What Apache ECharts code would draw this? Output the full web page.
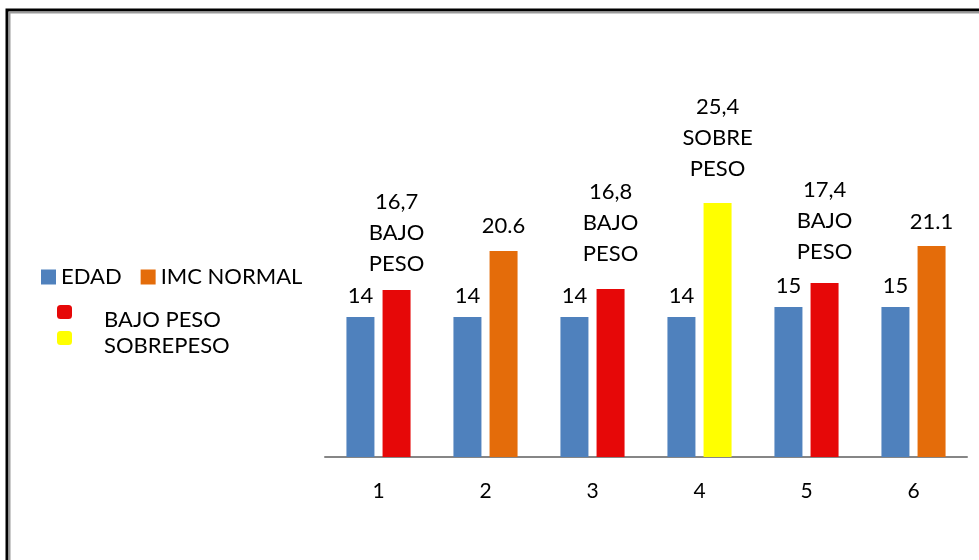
<!DOCTYPE html>
<html>
<head>
<meta charset="utf-8">
<script src="https://cdn.jsdelivr.net/npm/echarts@6/dist/echarts.min.js"></script>
<style>
  html, body { margin: 0; padding: 0; background: #fff; }
  #chart { width: 979px; height: 560px; }
</style>
</head>
<body>
<div id="chart"></div>
<script>
"use strict";

// ── data ──
const categories = ["1", "2", "3", "4", "5", "6"];
const edad       = [14, 14, 14, 14, 15, 15];
const imc        = [16.7, 20.6, 16.8, 25.4, 17.4, 21.1];
const imcClass   = ["BAJO PESO", "NORMAL", "BAJO PESO", "SOBREPESO", "BAJO PESO", "NORMAL"];
const imcLabels  = ["16,7\nBAJO\nPESO", "20.6", "16,8\nBAJO\nPESO", "25,4\nSOBRE\nPESO", "17,4\nBAJO\nPESO", "21.1"];

const COLORS = { EDAD: "#4F81BD", NORMAL: "#E46C0A", "BAJO PESO": "#E60808", SOBREPESO: "#FFFF00" };
const labelGap = [11, 10, 20, 19, 16, 9];   // manual label offsets as in the original
const FONT = "Lato, 'Open Sans', sans-serif";

const chart = echarts.init(document.getElementById("chart"));

chart.setOption({
  backgroundColor: "#fff",
  animation: false,
  textStyle: { fontFamily: FONT },
  graphic: [
    { type: "rect", shape: { x: 7, y: 10, width: 1100, height: 700 }, style: { fill: null, stroke: "#000", lineWidth: 3 }, silent: true },
    { type: "rect", shape: { x: 9.5, y: 12.5, width: 1100, height: 700 }, style: { fill: null, stroke: "#9a9a9a", lineWidth: 2 }, silent: true }
  ],
  legend: [
    {
      data: [{ name: "EDAD", icon: "rect" }, { name: "IMC NORMAL", icon: "rect" }],
      left: 36, top: 261,
      itemWidth: 15, itemHeight: 15, itemGap: 19,
      textStyle: { fontSize: 22, color: "#000", fontFamily: FONT }
    },
    {
      data: [{ name: "BAJO PESO", icon: "roundRect" }, { name: "SOBREPESO", icon: "roundRect" }],
      orient: "vertical",
      left: 52, top: 300,
      itemWidth: 15, itemHeight: 14, itemGap: 0,
      formatter: name => "{t|" + name + "}",
      textStyle: {
        fontSize: 22, color: "#000", fontFamily: FONT,
        rich: { t: { fontSize: 22, color: "#000", fontFamily: FONT, padding: [16, 0, 0, 27] } }
      }
    }
  ],
  grid: { left: 325, top: 57, width: 642, height: 400 },
  xAxis: {
    type: "category",
    data: categories,
    axisTick: { show: false },
    axisLine: { lineStyle: { color: "#868686", width: 2 } },
    axisLabel: { fontSize: 21, color: "#000", margin: 24, fontFamily: FONT }
  },
  yAxis: { type: "value", min: 0, max: 40, show: false, splitLine: { show: false } },
  series: [
    {
      name: "EDAD", type: "bar", barWidth: 28, barGap: "29%",
      itemStyle: { color: COLORS.EDAD },
      label: { show: true, position: "top", distance: 10, fontSize: 22, color: "#000", fontFamily: FONT },
      data: edad
    },
    {
      name: "IMC NORMAL", type: "bar", barWidth: 28,
      itemStyle: { color: COLORS.NORMAL },
      data: imc.map((v, i) => ({
        value: v,
        itemStyle: { color: COLORS[imcClass[i]] },
        label: {
          show: true, position: "top", distance: labelGap[i],
          formatter: imcLabels[i],
          fontSize: 22, lineHeight: 31, color: "#000", fontFamily: FONT
        }
      }))
    },
    { name: "BAJO PESO", type: "scatter", data: [], itemStyle: { color: COLORS["BAJO PESO"], opacity: 1 } },
    { name: "SOBREPESO", type: "scatter", data: [], itemStyle: { color: COLORS.SOBREPESO, opacity: 1 } }
  ]
});
window.addEventListener("resize", () => chart.resize());
</script>
</body>
</html>
